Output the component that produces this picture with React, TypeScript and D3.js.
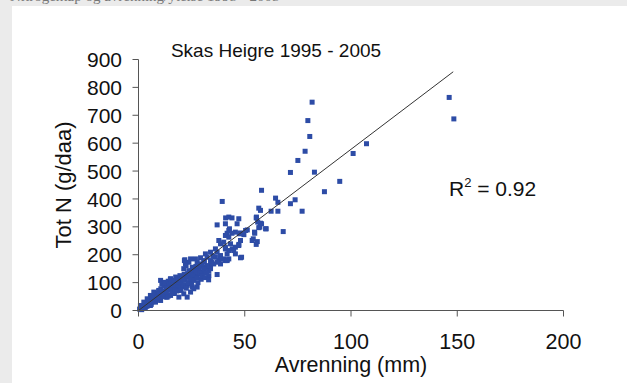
import React from "react";
import * as d3 from "d3";

// Runoff (mm) and total nitrogen loss (g/daa) per sampling period
const runoffMm = [
  // high-runoff periods
  81.7, 79.7, 80.6, 78.4, 75, 71.5, 82.8, 94.7, 87.5, 101, 107.3, 146.2, 148.4,
  // 53-78 mm
  57.9, 64.5, 65.6, 71.5, 73.7, 77, 68.1, 62.4, 65.6, 56.6, 57.4, 55.5, 57.4, 57.1, 60.1,
  54.6, 54, 55.4, 56.1, 56.6, 57.9, 59.8, 54.7, 53.5, 55.4, 55.9,
  // 37-52 mm
  39.4, 41, 42.5, 44, 47.2, 46.4, 40.9, 37, 42.8, 41.7, 45.6, 47.5, 49.6, 51.2, 42.5, 44,
  48, 50.4, 48, 47.2, 45.6, 44.1, 42.5, 41.7, 40.9, 48.5, 42.5, 40.9, 40.9, 42.5, 37.8,
  38.6, 40.1, 40.9, 43.3, 47.2, 44.8, 45.6, 48,
  // 29-42 mm
  37, 38.6, 36.2, 37.8, 40.1, 41.7, 33.9, 36.2, 31.5, 32.3, 30.7, 33.9, 29.2, 38.6, 38.6,
  41.7, 37, 35.4, 33.9, 32.3, 33.1, 30, 30.7, 33.9, 30.7, 29.2, 33.1, 37, 35, 34.5,
  // 19-33 mm
  26.8, 27.6, 23.7, 22.1, 25.3, 29.2, 32.3, 21.3, 23.7, 26, 28.4, 19.8, 22.9, 27.6, 26,
  23.7, 21.3, 19, 24.5, 21.8, 22.9, 25.3, 20.6, 27.6, 26, 24.5, 22.9, 21.3, 19, 24, 18.5,
  16.9, 13, 21.6, 22.4, 28.5, 31, 30, 26.5, 25, 23, 27,
  // 0-21 mm
  10.4, 11.9, 15.1, 16.6, 13.5, 18.2, 20.6, 19.8, 16.6, 15.1, 13.5, 9.6, 7.2, 5.6, 4.1,
  7.2, 10.4, 2.5, 0.9, 3.3, 5.6,
  0.5, 1, 1.5, 2, 2.5, 3, 3, 3.5, 4, 4, 4.5, 5, 5, 5.5, 6, 6, 6.5, 7, 7, 7.5, 8, 8, 8.5, 9,
  9, 9.5, 10, 10, 10.5, 11, 11, 11.5, 12, 12, 12.5, 13, 13.5, 14, 14, 14.5, 15, 15, 15.5,
  16, 16, 16.5, 17, 17.5, 18, 18, 18.5, 19, 19.5, 20, 20, 20.5, 21, 21.5, 22, 22.5, 23,
  23.5, 24, 24.5, 25, 25.5, 26, 27, 27.5, 28, 29, 29.5, 30, 31, 31.5, 32, 33,
  1.2, 2.2, 3.8, 6.2, 8.8, 9.8, 12.8, 14.8, 17.2, 19.2, 11.2, 13.2, 16.2, 18.8,
];

const totNgDaa = [
  747, 681, 624, 571, 538, 495, 496, 463, 426, 563, 598, 764, 687,
  431, 403, 388, 383, 397, 356, 283, 356, 356, 367, 359, 335, 313, 299, 293,
  281, 257, 237, 317, 297, 311, 293, 277, 251, 332, 247,
  391, 332, 335, 332, 329, 311, 311, 307, 293, 277, 281, 275, 272, 289, 287, 277,
  278, 287, 251, 237, 227, 221, 215, 203, 221, 191, 185, 179, 269, 263, 251,
  239, 245, 227, 239, 233, 215, 203, 189,
  209, 197, 191, 179, 185, 182, 209, 221, 203, 191, 179, 179, 189, 185, 167,
  179, 173, 167, 161, 155, 143, 137, 155, 150, 143, 131, 125, 129, 195, 172,
  185, 173, 173, 167, 155, 167, 161, 150, 143, 143, 150, 119, 119, 125, 119,
  125, 119, 114, 185, 182, 90, 84, 86, 84, 78, 66, 48, 60, 48, 97, 72,
  61, 48, 179, 161, 165, 175, 160, 150, 140, 132, 158,
  108, 101, 114, 105, 84, 96, 86, 72, 66, 54, 48, 72, 66, 54, 42,
  36, 36, 30, 18, 12, 18,
  5, 8, 3, 14, 10, 20, 8, 25, 15, 28, 22, 35, 18, 28, 40, 22, 45, 32, 50, 38, 55, 30, 48, 62,
  40, 70, 55, 45, 78, 60, 95, 50, 70, 88, 100, 62, 80, 105, 52, 90, 72, 112, 98,
  85, 62, 108, 78, 120, 95, 70, 110, 88, 125, 100, 75, 115, 92, 130, 108, 80, 122,
  100, 135, 112, 95, 128, 108, 140, 118, 100, 135, 112, 125, 148, 118, 135, 110,
  7, 12, 20, 30, 48, 58, 68, 82, 92, 102, 60, 80, 90, 110,
];

// Fitted trend line end points (through origin)
const trendRunoff = [0, 148.1];
const trendTotN = [0, 856];

const xTicks = [0, 50, 100, 150, 200];
const yTicks = [0, 100, 200, 300, 400, 500, 600, 700, 800, 900];

const chartTitle = "Skas Heigre 1995 - 2005";
const xTitle = "Avrenning (mm)";
const yTitle = "Tot N (g/daa)";

const W = 627;
const H = 383;
const FONT = "'Liberation Sans', Arial, sans-serif";

export default function App() {
  const x = d3.scaleLinear().domain([0, 200]).range([138.5, 563.5]);
  const y = d3.scaleLinear().domain([0, 900]).range([310.5, 59.5]);
  const trend = d3
    .line<number>()
    .x((d) => x(d))
    .y((_, i) => y(trendTotN[i]));

  const axisColor = "#555";
  const markerColor = "#2d4ca6";
  const ms = 5;

  return (
    <svg
      width={W}
      height={H}
      style={{ position: "absolute", left: 0, top: 0, display: "block" }}
      fontFamily={FONT}
    >
      <rect x={0} y={0} width={W} height={H} fill="#ebebeb" />
      {/* page caption running above the figure frame */}
      <g transform="translate(0,-9)">
        <text x={10} y={10} fontFamily="'Liberation Serif', serif" fontSize={15} fill="#777">
          Nitrogentap og avrenning/ytelse 1995 - 2005
        </text>
      </g>
      <rect x={12} y={6} width={W - 12} height={H - 6} fill="#ffffff" />

      {/* points */}
      <g fill={markerColor}>
        {runoffMm.map((r, i) => (
          <rect
            key={i}
            x={x(r) - ms / 2}
            y={y(totNgDaa[i]) - ms / 2}
            width={ms}
            height={ms}
          />
        ))}
      </g>

      {/* trend line */}
      <path d={trend(trendRunoff) || ""} fill="none" stroke="#333" strokeWidth={1} />

      {/* y axis */}
      <line x1={x(0)} x2={x(0)} y1={y(0)} y2={y(900)} stroke={axisColor} />
      {yTicks.map((t) => (
        <g key={t}>
          <line x1={x(0) - 6} x2={x(0)} y1={y(t)} y2={y(t)} stroke={axisColor} />
          <text
            x={122}
            y={y(t)}
            dy="0.36em"
            textAnchor="end"
            fontSize={21}
            fill="#111"
          >
            {t}
          </text>
        </g>
      ))}

      {/* x axis */}
      <line x1={x(0)} x2={x(200)} y1={y(0)} y2={y(0)} stroke={axisColor} />
      {xTicks.map((t) => (
        <g key={t}>
          <line x1={x(t)} x2={x(t)} y1={y(0)} y2={y(0) + 6} stroke={axisColor} />
          <text x={x(t)} y={349} textAnchor="middle" fontSize={21.5} fill="#111">
            {t}
          </text>
        </g>
      ))}

      <text x={x(100)} y={372} textAnchor="middle" fontSize={21.5} fill="#111">
        {xTitle}
      </text>
      <text
        transform={`translate(71,${(y(0) + y(900)) / 2}) rotate(-90)`}
        textAnchor="middle"
        fontSize={22}
        fill="#111"
      >
        {yTitle}
      </text>

      <text x={276} y={57} textAnchor="middle" fontSize={19} fill="#111">
        {chartTitle}
      </text>

      <text x={449} y={196} fontSize={21} fill="#111">
        R<tspan dy={-9} fontSize={13}>2</tspan>
        <tspan dy={9}> = 0.92</tspan>
      </text>
    </svg>
  );
}
